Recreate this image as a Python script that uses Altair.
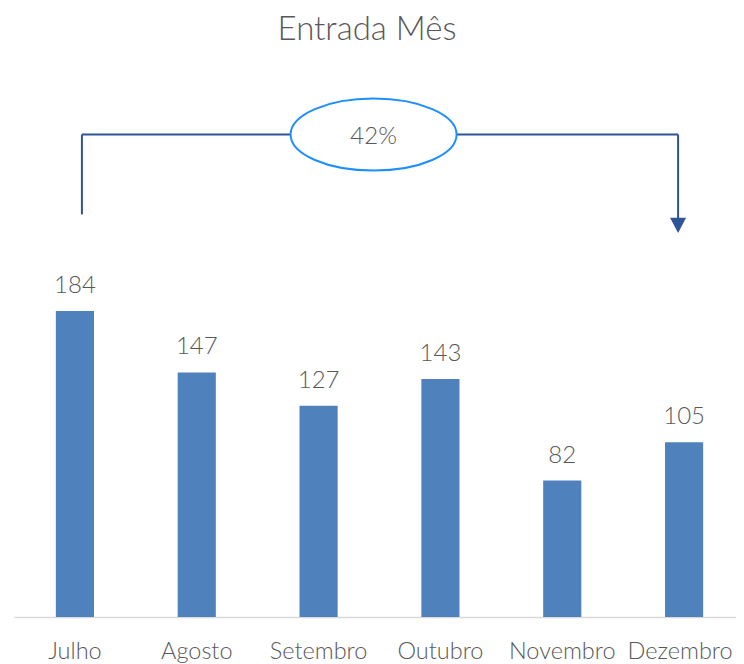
import altair as alt
import pandas as pd

# Data
months = ["Julho", "Agosto", "Setembro", "Outubro", "Novembro", "Dezembro"]
values = [184, 147, 127, 143, 82, 105]
pct_label = "42%"

# Annotation levels (in data units of the y scale)
bracket_top = 290
left_leg_bottom = 242
arrow_shaft_bottom = 239
arrow_head_center = 235.4

df = pd.DataFrame({"mes": months, "valor": values})

FONT = "Lato"
WEIGHT = 300
TXT = "#595959"
BAR = "#4F81BD"
LINE = "#2F5597"
ELLIPSE = "#1E8FFF"

xscale = alt.Scale(domain=months, range=[0, 731], paddingInner=0.687, paddingOuter=0.3435)
yscale = alt.Scale(domain=[0, 336], nice=False, zero=True)

x_enc = alt.X("mes:N", sort=months, scale=xscale,
              axis=alt.Axis(title=None, labelAngle=0, ticks=False, domainColor="#D9D9D9",
                            domainWidth=1.5, labelFont=FONT, labelFontSize=23.5,
                            labelFontWeight=WEIGHT, labelBaseline="alphabetic",
                            labelOffset={"condition": {"test": "datum.value == 'Dezembro'",
                                                       "value": -4}, "value": 0},
                            labelColor=TXT, labelPadding=41, grid=False))
y_enc = alt.Y("valor:Q", scale=yscale, axis=None)

bars = alt.Chart(df).mark_bar(color=BAR).encode(x=x_enc, y=y_enc)
labels = alt.Chart(df).mark_text(font=FONT, fontSize=24, fontWeight=WEIGHT, color=TXT,
                                 baseline="alphabetic", dy=-18).encode(
    x=alt.X("mes:N", sort=months, scale=xscale),
    y=alt.Y("valor:Q", scale=yscale),
    text="valor:Q")

ann = pd.DataFrame({
    "a": [months[0]], "b": [months[-1]], "mid": [months[2]],
    "top": [bracket_top], "lbot": [left_leg_bottom], "abot": [arrow_shaft_bottom],
    "ahead": [arrow_head_center], "txt": [pct_label],
})
ELLIPSE_PATH = ("M-1,0 C-1,-0.2397 -0.5523,-0.434 0,-0.434 C0.5523,-0.434 1,-0.2397 1,0 "
                "C1,0.2397 0.5523,0.434 0,0.434 C-0.5523,0.434 -1,0.2397 -1,0 Z")

base = alt.Chart(ann)
h_rule = base.mark_rule(color=LINE, strokeWidth=2, xOffset=7, x2Offset=-6).encode(
    x=alt.X("a:N", scale=xscale), x2="b:N", y=alt.Y("top:Q", scale=yscale))
l_rule = base.mark_rule(color=LINE, strokeWidth=2, xOffset=7).encode(
    x=alt.X("a:N", scale=xscale), y=alt.Y("top:Q", scale=yscale), y2="lbot:Q")
r_rule = base.mark_rule(color=LINE, strokeWidth=2, xOffset=-6).encode(
    x=alt.X("b:N", scale=xscale), y=alt.Y("top:Q", scale=yscale), y2="abot:Q")
head = base.mark_point(shape="M-1,-0.94L1,-0.94L0,0.94Z", size=256, filled=True,
                       color=LINE, opacity=1, xOffset=-6).encode(
    x=alt.X("b:N", scale=xscale), y=alt.Y("ahead:Q", scale=yscale))
ellipse = base.mark_point(shape=ELLIPSE_PATH, size=27556,
                          filled=False, fill="white", fillOpacity=1, stroke=ELLIPSE,
                          strokeWidth=2, opacity=1, xOffset=55).encode(
    x=alt.X("mid:N", scale=xscale), y=alt.Y("top:Q", scale=yscale))
pct = base.mark_text(font=FONT, fontSize=24, fontWeight=WEIGHT, color=TXT, baseline="middle",
                     xOffset=55, dy=2).encode(
    x=alt.X("mid:N", scale=xscale), y=alt.Y("top:Q", scale=yscale), text="txt:N")

chart = alt.layer(bars, labels, h_rule, l_rule, r_rule, head, ellipse, pct).properties(
    width=722, height=559,
    autosize=alt.AutoSizeParams(type="none"),
    padding={"left": 6, "top": 50, "right": 0, "bottom": 48},
    title=alt.TitleParams("Entrada Mês", font=FONT, fontSize=33, fontWeight=WEIGHT,
                          color=TXT, anchor="middle", dx=-8, offset=11),
).configure_view(stroke=None)

chart.save("out.html", embed_options={"renderer": "svg", "actions": False})
